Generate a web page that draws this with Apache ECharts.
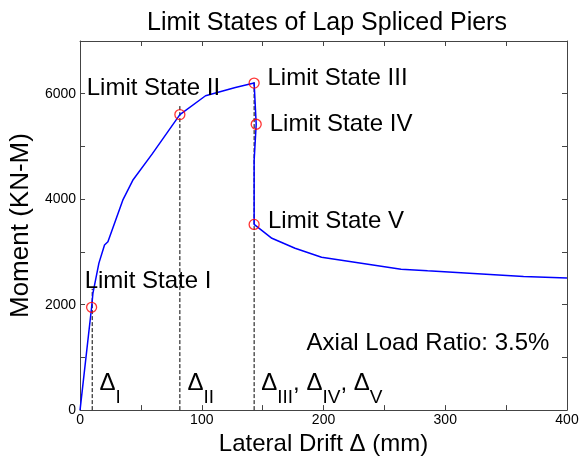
<!DOCTYPE html>
<html>
<head>
<meta charset="utf-8">
<script src="https://cdn.jsdelivr.net/npm/echarts@6/dist/echarts.min.js"></script>
<style>
  html, body { margin: 0; padding: 0; background: #fff; }
  #chart { width: 584px; height: 461px; }
</style>
</head>
<body>
<div id="chart"></div>
<script>
// pushover curve
const drift = [0, 9.5, 10.6, 15.5, 20.1, 22.9, 35.1, 43.3, 59.6, 82, 103.1, 127.6, 143, 144.7, 143, 143, 157.6, 176.6, 198.4, 263.7, 285.5, 364.3, 400]
const moment = [0, 1950, 2220, 2787, 3132, 3194, 3981, 4358, 4868, 5604, 5962, 6119, 6202, 5421, 4736, 3522, 3258, 3069, 2899, 2673, 2641, 2534, 2503]

// limit state points
const stateNames = ['Limit State I', 'Limit State II', 'Limit State III', 'Limit State IV', 'Limit State V']
const stateDrift = [9.5, 82, 143, 144.7, 143]
const stateMoment = [1950, 5604, 6202, 5421, 3522]

// where each state name is written (data units)
const stateLabelX = [3.8, 5.5, 154, 155.8, 154.4]
const stateLabelY = [2447, 6094, 6292, 5419, 3588]

// dashed drift markers
const dashDrift = [10, 82, 143]
const dashTop = [2300, 5800, 6250]

// delta labels along the bottom
const deltaText = ['{d|Δ}{s|I}', '{d|Δ}{s|II}', '{d|Δ}{s|III}{d|, Δ}{s|IV}{d|, Δ}{s|V}']
const deltaX = [16, 88.2, 148.8]
const deltaY = 390

const noteText = 'Axial Load Ratio: 3.5%'
const noteX = 186.1
const noteY = 1268

const FONT = '"Liberation Sans", Arial, Helvetica, sans-serif'
const AXIS_COLOR = '#444'

const chart = echarts.init(document.getElementById('chart'))

const dashSeries = dashDrift.map((x, i) => ({
  type: 'line',
  data: [[x, 0], [x, dashTop[i]]],
  symbol: 'none',
  silent: true,
  lineStyle: { color: '#000', width: 1, type: [4, 2] },
  z: 2
}))

const boxAxis = {
  min: 0,
  axisLine: { show: true, onZero: false, lineStyle: { color: AXIS_COLOR, width: 1 } },
  axisTick: { show: true, inside: true, length: 5, lineStyle: { color: AXIS_COLOR } },
  axisLabel: { show: false },
  splitLine: { show: false }
}

const textLabel = {
  show: true,
  position: 'right',
  distance: 0,
  fontFamily: FONT,
  fontSize: 24,
  color: '#000',
  opacity: 1,
  textBorderWidth: 0
}

const options = {
  animation: false,
  backgroundColor: '#fff',
  title: {
    text: 'Limit States of Lap Spliced Piers',
    left: 322,
    textAlign: 'center',
    top: 6,
    textStyle: { fontFamily: FONT, fontSize: 25, fontWeight: 'normal', color: '#000' }
  },
  grid: { left: 77, right: 17, top: 41, bottom: 50 },
  xAxis: [
    {
      type: 'value',
      min: 0,
      max: 400,
      interval: 50,
      name: 'Lateral Drift Δ (mm)',
      nameLocation: 'middle',
      nameGap: 18,
      nameTextStyle: { fontFamily: FONT, fontSize: 24, color: '#000' },
      axisLine: { show: true, onZero: false, lineStyle: { color: AXIS_COLOR, width: 1 } },
      axisTick: { show: true, inside: true, length: 5, lineStyle: { color: AXIS_COLOR } },
      axisLabel: {
        margin: 3,
        fontFamily: FONT,
        fontSize: 14,
        color: '#000',
        formatter: v => (v % 100 === 0 ? String(v) : '')
      },
      splitLine: { show: false }
    },
    Object.assign({ type: 'value', position: 'top', max: 400, interval: 50 }, boxAxis)
  ],
  yAxis: [
    {
      type: 'value',
      min: 0,
      max: 7000,
      interval: 1000,
      name: 'Moment (KN-M)',
      nameLocation: 'middle',
      nameGap: 36,
      nameTextStyle: { fontFamily: FONT, fontSize: 26, color: '#000' },
      axisLine: { show: true, onZero: false, lineStyle: { color: AXIS_COLOR, width: 1 } },
      axisTick: { show: true, inside: true, length: 5, lineStyle: { color: AXIS_COLOR } },
      axisLabel: {
        margin: 4,
        fontFamily: FONT,
        fontSize: 14,
        color: '#000',
        formatter: v => (v % 2000 === 0 ? String(v) : '')
      },
      splitLine: { show: false }
    },
    Object.assign({ type: 'value', position: 'right', max: 7000, interval: 1000 }, boxAxis)
  ],
  series: [
    ...dashSeries,
    {
      type: 'line',
      data: drift.map((x, i) => [x, moment[i]]),
      symbol: 'none',
      silent: true,
      lineStyle: { color: '#0000ff', width: 1.5 },
      z: 3
    },
    {
      type: 'scatter',
      data: stateDrift.map((x, i) => [x, stateMoment[i]]),
      symbol: 'circle',
      symbolSize: 10,
      silent: true,
      itemStyle: { color: 'rgba(0,0,0,0)', borderColor: '#ff0000', borderWidth: 1.3 },
      z: 4
    },
    {
      type: 'scatter',
      data: stateNames.map((t, i) => ({ value: [stateLabelX[i], stateLabelY[i]], label: { formatter: t, color: '#000' } }))
        .concat([{ value: [noteX, noteY], label: { formatter: noteText, color: '#000' } }]),
      symbolSize: 0,
      silent: true,
      itemStyle: { color: '#000', opacity: 1 },
      label: textLabel,
      z: 5
    },
    {
      type: 'scatter',
      data: deltaText.map((t, i) => ({ value: [deltaX[i], deltaY], label: { formatter: t } })),
      symbolSize: 0,
      silent: true,
      itemStyle: { color: '#000', opacity: 1 },
      label: Object.assign({}, textLabel, {
        rich: {
          d: { fontFamily: FONT, fontSize: 24, lineHeight: 36, verticalAlign: 'top', color: '#000' },
          s: { fontFamily: FONT, fontSize: 19, lineHeight: 12, verticalAlign: 'bottom', color: '#000' }
        }
      }),
      z: 5
    }
  ]
}

chart.setOption(options)
</script>
</body>
</html>
